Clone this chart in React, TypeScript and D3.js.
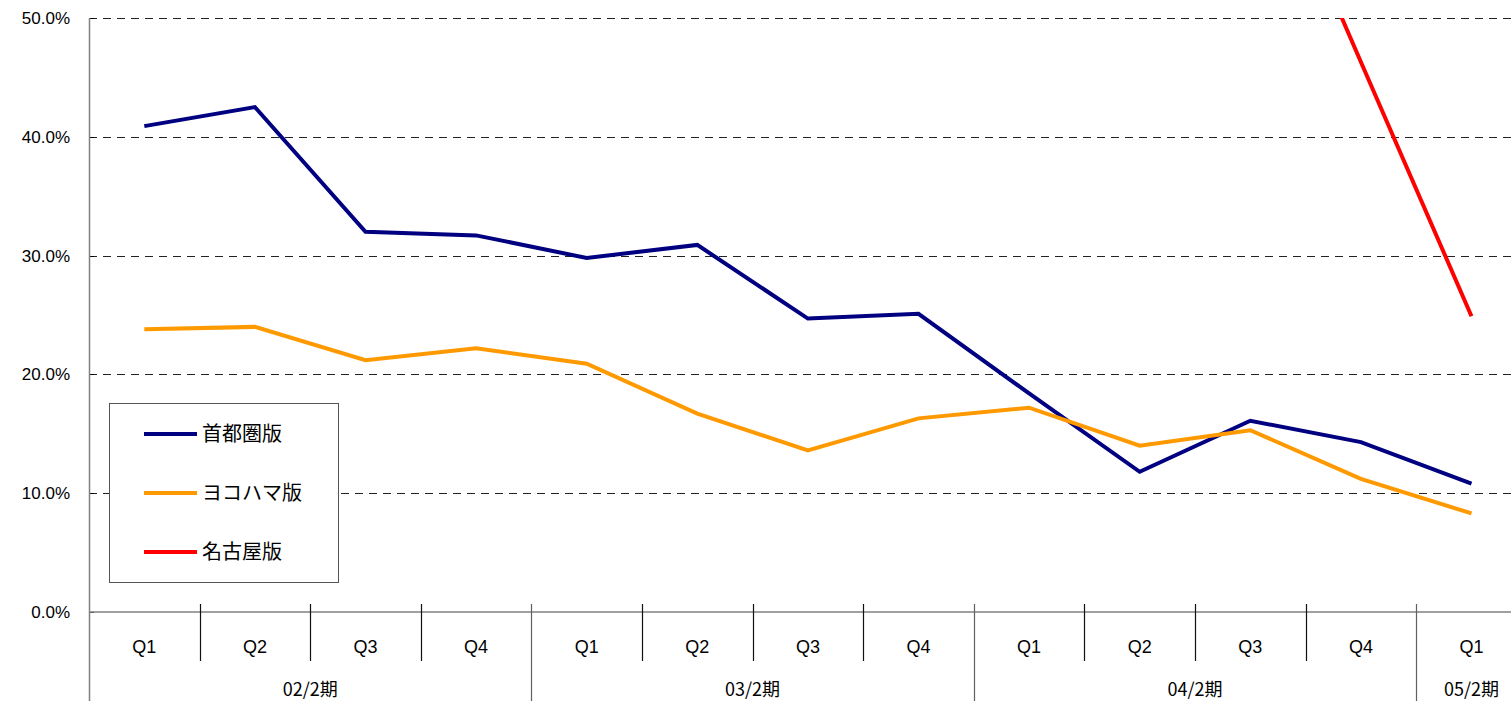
import React, { useEffect, useRef } from 'react';
import * as d3 from 'd3';

const quarters = ['Q1', 'Q2', 'Q3', 'Q4', 'Q1', 'Q2', 'Q3', 'Q4', 'Q1', 'Q2', 'Q3', 'Q4', 'Q1'];
const periods = ['02/2期', '03/2期', '04/2期', '05/2期'];
const periodSizes = [4, 4, 4, 1];
const yTicks = [0, 10, 20, 30, 40, 50];

const seriesNames = ['首都圏版', 'ヨコハマ版', '名古屋版'];
const shutoken = [40.9, 42.5, 32.0, 31.7, 29.8, 30.9, 24.7, 25.1, 18.4, 11.8, 16.1, 14.3, 10.8];
const yokohama = [23.8, 24.0, 21.2, 22.2, 20.9, 16.7, 13.6, 16.3, 17.2, 14.0, 15.3, 11.2, 8.3];
const nagoya = [null, null, null, null, null, null, null, null, null, null, 67.8, 46.3, 24.9];
const seriesColors = ['#000080', '#FF9900', '#FF0000'];

const W = 1511;
const H = 701;

const App = () => {
  const ref = useRef<SVGSVGElement>(null);

  useEffect(() => {
    const svg = d3.select(ref.current);
    svg.selectAll('*').remove();

    const left = 89;
    const band = 110.6;
    const top = 18;
    const bottom = 612;

    const x = d3.scaleBand<number>()
      .domain(quarters.map((_, i) => i))
      .range([left, left + band * quarters.length])
      .paddingInner(0).paddingOuter(0);
    const y = d3.scaleLinear().domain([0, 50]).range([bottom, top]);

    const latin = '"Liberation Sans", Arial, sans-serif';
    const jp = '"Noto Sans CJK JP", sans-serif';

    svg.append('defs').append('clipPath').attr('id', 'plot')
      .append('rect')
      .attr('x', left).attr('y', top)
      .attr('width', W - left).attr('height', bottom - top);

    // gridlines
    svg.append('g').selectAll('line')
      .data(yTicks.filter(t => t > 0))
      .enter().append('line')
      .attr('x1', left).attr('x2', W)
      .attr('y1', d => Math.round(y(d)) + 0.5).attr('y2', d => Math.round(y(d)) + 0.5)
      .attr('stroke', '#222')
      .attr('stroke-dasharray', '8,6');

    // y tick labels
    svg.append('g').selectAll('text')
      .data(yTicks)
      .enter().append('text')
      .attr('x', 70)
      .attr('y', d => y(d))
      .attr('dy', '0.35em')
      .attr('text-anchor', 'end')
      .attr('font-family', latin)
      .attr('font-size', 17)
      .attr('fill', '#000')
      .text(d => d.toFixed(1) + '%');

    // y tick marks
    svg.append('g').selectAll('line')
      .data(yTicks)
      .enter().append('line')
      .attr('x1', left).attr('x2', left + 5)
      .attr('y1', d => Math.round(y(d)) + 0.5).attr('y2', d => Math.round(y(d)) + 0.5)
      .attr('stroke', '#000');

    // axes
    svg.append('line')
      .attr('x1', left + 0.5).attr('x2', left + 0.5)
      .attr('y1', top).attr('y2', H)
      .attr('stroke', '#808080').attr('stroke-width', 1.5);
    svg.append('line')
      .attr('x1', left).attr('x2', W)
      .attr('y1', bottom).attr('y2', bottom)
      .attr('stroke', '#808080').attr('stroke-width', 1.5);

    // category separators
    const groupStarts = [0];
    periodSizes.forEach((s, i) => groupStarts.push(groupStarts[i] + s));
    svg.append('g').selectAll('line')
      .data(quarters.map((_, i) => i).slice(1))
      .enter().append('line')
      .attr('x1', d => Math.round(x(d)!) + 0.5).attr('x2', d => Math.round(x(d)!) + 0.5)
      .attr('y1', bottom - 8)
      .attr('y2', d => groupStarts.includes(d) ? H : 661)
      .attr('stroke', d => groupStarts.includes(d) ? '#606060' : '#111')
      .attr('stroke-width', 1.2);

    // quarter labels
    svg.append('g').selectAll('text')
      .data(quarters)
      .enter().append('text')
      .attr('x', (_, i) => x(i)! + x.bandwidth() / 2)
      .attr('y', 647)
      .attr('dy', '0.35em')
      .attr('text-anchor', 'middle')
      .attr('font-family', latin)
      .attr('font-size', 18)
      .text(d => d);

    // period labels
    svg.append('g').selectAll('text')
      .data(periods)
      .enter().append('text')
      .attr('x', (_, i) => {
        const a = x(groupStarts[i])!;
        const b = x(groupStarts[i + 1] - 1)! + x.bandwidth();
        return (a + b) / 2;
      })
      .attr('y', 690)
      .attr('dy', '0.35em')
      .attr('text-anchor', 'middle')
      .attr('font-family', jp)
      .attr('font-size', 18)
      .text(d => d);

    // lines
    const line = d3.line<number | null>()
      .defined(d => d !== null)
      .x((_, i) => x(i)! + x.bandwidth() / 2)
      .y(d => y(d as number));

    const g = svg.append('g').attr('clip-path', 'url(#plot)');
    [shutoken, yokohama, nagoya].forEach((s, i) => {
      g.append('path')
        .datum(s)
        .attr('d', line)
        .attr('fill', 'none')
        .attr('stroke', seriesColors[i])
        .attr('stroke-width', 4)
        .attr('stroke-linejoin', 'miter');
    });

    // legend
    const lg = svg.append('g');
    lg.append('rect')
      .attr('x', 109.5).attr('y', 403.5)
      .attr('width', 229).attr('height', 179)
      .attr('fill', '#fff')
      .attr('stroke', '#555');
    seriesNames.forEach((n, i) => {
      const ly = 434 + i * 59;
      lg.append('line')
        .attr('x1', 144).attr('x2', 197)
        .attr('y1', ly).attr('y2', ly)
        .attr('stroke', seriesColors[i])
        .attr('stroke-width', 4);
      lg.append('text')
        .attr('x', 202).attr('y', ly)
        .attr('dy', '0.36em')
        .attr('font-family', jp)
        .attr('font-size', 20)
        .text(n);
    });
  }, []);

  return (
    <svg ref={ref} width={W} height={H}
      style={{ position: 'absolute', left: 0, top: 0, background: '#fff' }} />
  );
};

export default App;
